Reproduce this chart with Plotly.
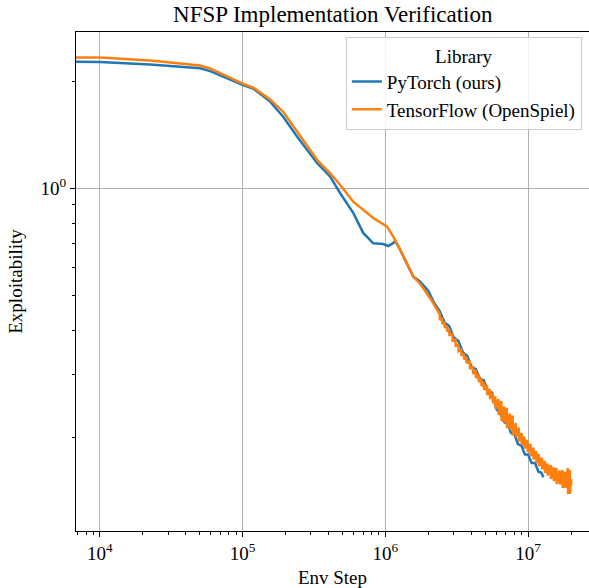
import plotly.graph_objects as go

# ---------------- data ----------------
pytorch_steps = [6800, 10020, 22450, 50350, 59160, 77880, 100800, 118500, 139200, 155900,
                 192300, 241200, 333100, 410800, 482700, 595500, 699800, 822700, 966700,
                 1.05e6, 1.136e6, 1.17e6, 1.272e6, 1.569e6, 1.757e6,
                 2.0e6, 2.2e6, 2.4e6, 2.6e6, 2.8e6, 3.0e6, 3.25e6, 3.5e6, 3.75e6, 4.0e6,
                 4.3e6, 4.6e6, 4.9e6, 5.25e6, 5.6e6, 6.0e6, 6.4e6, 6.8e6, 7.2e6, 7.6e6,
                 8.0e6, 8.5e6, 9.0e6, 9.5e6, 1.0e7, 1.06e7, 1.12e7, 1.18e7, 1.24e7, 1.28e7]
pytorch_expl = [2.275, 2.27, 2.235, 2.18, 2.14, 2.04, 1.957, 1.913, 1.814, 1.757,
                1.594, 1.40, 1.179, 1.081, 0.971, 0.855, 0.751, 0.702, 0.699,
                0.690, 0.703, 0.713, 0.673, 0.566, 0.548,
                0.5157, 0.4772, 0.4531, 0.4206, 0.4111, 0.3829, 0.3731, 0.3463, 0.3386, 0.3163,
                0.3112, 0.2927, 0.2889, 0.2682, 0.2673, 0.2402, 0.2326, 0.2208, 0.2181, 0.2056,
                0.2044, 0.1915, 0.1892, 0.1790, 0.1790, 0.1694, 0.1694, 0.1603, 0.1590, 0.1545]

# smooth early part of the TensorFlow curve
tensorflow_steps_early = [6800, 10020, 22450, 50350, 59160, 77880, 100800, 118500, 139200, 155900,
                          192300, 241200, 333100, 410800, 482700, 595500, 699800, 822700, 1.031e6,
                          1.136e6, 1.272e6, 1.569e6, 1.757e6, 2.1e6]
tensorflow_expl_early = [2.338, 2.338, 2.293, 2.22, 2.178, 2.067, 1.97, 1.925, 1.834, 1.782,
                         1.646, 1.446, 1.204, 1.105, 1.024, 0.919, 0.871, 0.827, 0.782,
                         0.733, 0.673, 0.566, 0.5396, 0.4864]

# noisy tail of the TensorFlow curve: upper / lower edge of the noise band at each step
tensorflow_steps_tail = [2.40e6, 2.41e6, 2.50e6, 2.51e6, 2.60e6, 2.61e6, 2.70e6, 2.71e6,
                         2.80e6, 2.81e6, 2.95e6, 2.96e6, 3.10e6, 3.11e6, 3.25e6, 3.26e6,
                         3.40e6, 3.41e6, 3.55e6, 3.56e6, 3.70e6, 3.71e6, 3.90e6, 3.92e6,
                         4.10e6, 4.12e6, 4.30e6, 4.32e6, 4.50e6, 4.52e6, 4.70e6, 4.72e6,
                         4.90e6, 4.92e6, 5.15e6, 5.17e6, 5.40e6, 5.42e6, 5.65e6, 5.67e6,
                         5.90e6, 5.92e6, 6.20e6, 6.22e6, 6.50e6, 6.53e6, 6.80e6, 6.83e6,
                         7.10e6, 7.13e6, 7.45e6, 7.48e6, 7.80e6, 7.83e6, 8.20e6, 8.23e6,
                         8.60e6, 8.63e6, 9.00e6, 9.04e6, 9.40e6, 9.44e6, 9.90e6, 9.94e6,
                         1.040e7, 1.044e7, 1.090e7, 1.094e7, 1.140e7, 1.145e7, 1.190e7, 1.195e7,
                         1.250e7, 1.255e7, 1.310e7, 1.315e7, 1.370e7, 1.375e7, 1.440e7, 1.446e7,
                         1.510e7, 1.516e7, 1.580e7, 1.586e7, 1.660e7, 1.666e7, 1.740e7, 1.747e7,
                         1.820e7, 1.827e7, 1.900e7, 1.907e7, 1.960e7, 1.967e7, 2.000e7, 2.006e7]
tensorflow_expl_tail = [0.4444, 0.4274, 0.4330, 0.4165, 0.4219, 0.4059, 0.4125, 0.3968,
                        0.4032, 0.3879, 0.3891, 0.3743, 0.3767, 0.3624, 0.3636, 0.3497,
                        0.3531, 0.3397, 0.3441, 0.3310, 0.3364, 0.3236, 0.3278, 0.3112,
                        0.3174, 0.3013, 0.3092, 0.2936, 0.3013, 0.2861, 0.2936, 0.2788,
                        0.2861, 0.2717, 0.2806, 0.2630, 0.2735, 0.2563, 0.2665, 0.2498,
                        0.2605, 0.2410, 0.2563, 0.2311, 0.2530, 0.2223, 0.2442, 0.2201,
                        0.2418, 0.2124, 0.2333, 0.2104, 0.2303, 0.2024, 0.2194, 0.2004,
                        0.2131, 0.1947, 0.2057, 0.1903, 0.2011, 0.1860, 0.1966, 0.1819,
                        0.1915, 0.1772, 0.1872, 0.1733, 0.1830, 0.1694, 0.1795, 0.1661,
                        0.1755, 0.1624, 0.1716, 0.1588, 0.1688, 0.1562, 0.1672, 0.1527,
                        0.1650, 0.1507, 0.1640, 0.1478, 0.1613, 0.1474, 0.1619, 0.1441,
                        0.1598, 0.1441, 0.1640, 0.1386, 0.1619, 0.1386, 0.1527, 0.1469]

tensorflow_steps = tensorflow_steps_early + tensorflow_steps_tail
tensorflow_expl = tensorflow_expl_early + tensorflow_expl_tail

series_names = ["PyTorch (ours)", "TensorFlow (OpenSpiel)"]
series_colors = ["#1f77b4", "#ff7f0e"]

x_major = [1e4, 1e5, 1e6, 1e7]
x_major_text = ["10<sup>4</sup>", "10<sup>5</sup>", "10<sup>6</sup>", "10<sup>7</sup>"]
x_minor = [7e3, 8e3, 9e3] + [m * 10 ** e for e in (4, 5, 6) for m in range(2, 10)] + [2e7]
y_major = [1]
y_major_text = ["10<sup>0</sup>"]
y_minor = [0.2, 0.3, 0.4, 0.5, 0.6, 0.7, 0.8, 0.9, 2]

FONT = "Liberation Serif, Times New Roman, serif"

fig = go.Figure()
fig.add_trace(go.Scatter(x=pytorch_steps, y=pytorch_expl, mode="lines",
                         name=series_names[0], line=dict(color=series_colors[0], width=2.5)))
fig.add_trace(go.Scatter(x=tensorflow_steps, y=tensorflow_expl, mode="lines",
                         name=series_names[1], line=dict(color=series_colors[1], width=2.5)))

fig.update_layout(
    width=589, height=588,
    margin=dict(l=76, r=0, t=32, b=57),
    paper_bgcolor="white", plot_bgcolor="white",
    font=dict(family=FONT, size=19, color="black"),
    title=dict(text="NFSP Implementation Verification", x=0.565, xanchor="center",
               y=1 - 14 / 588, yanchor="middle", yref="container",
               font=dict(family=FONT, size=23, color="black")),
    showlegend=True,
    legend=dict(title=dict(text="Library", side="top center", font=dict(size=19)),
                x=0.986, xanchor="right", y=0.99, yanchor="top",
                bgcolor="rgba(255,255,255,0.85)", bordercolor="#cccccc", borderwidth=1,
                font=dict(family=FONT, size=19)),
)

fig.update_xaxes(type="log", range=[3.8324, 7.427],
                 tickmode="array", tickvals=x_major, ticktext=x_major_text,
                 ticks="outside", ticklen=5, tickwidth=1, tickcolor="black",
                 showline=True, linecolor="black", linewidth=1.2, mirror=True,
                 showgrid=True, gridcolor="#b0b0b0", gridwidth=1,
                 minor=dict(tickmode="array", tickvals=x_minor, ticks="outside",
                            ticklen=3, tickwidth=1, tickcolor="black", showgrid=False),
                 title=dict(text="Env Step", standoff=8, font=dict(size=19)),
                 automargin=False)
fig.update_yaxes(type="log", range=[-0.9623, 0.4405],
                 tickmode="array", tickvals=y_major, ticktext=y_major_text,
                 ticks="outside", ticklen=5, tickwidth=1, tickcolor="black",
                 showline=True, linecolor="black", linewidth=1.2, mirror=False,
                 showgrid=True, gridcolor="#b0b0b0", gridwidth=1,
                 minor=dict(tickmode="array", tickvals=y_minor, ticks="outside",
                            ticklen=3, tickwidth=1, tickcolor="black", showgrid=False),
                 title=dict(text="Exploitability", standoff=12, font=dict(size=19)),
                 automargin=False)

fig.write_html("out.html", config={"displayModeBar": False},
               post_script="document.body.style.margin='0';document.body.style.overflow='hidden';")
